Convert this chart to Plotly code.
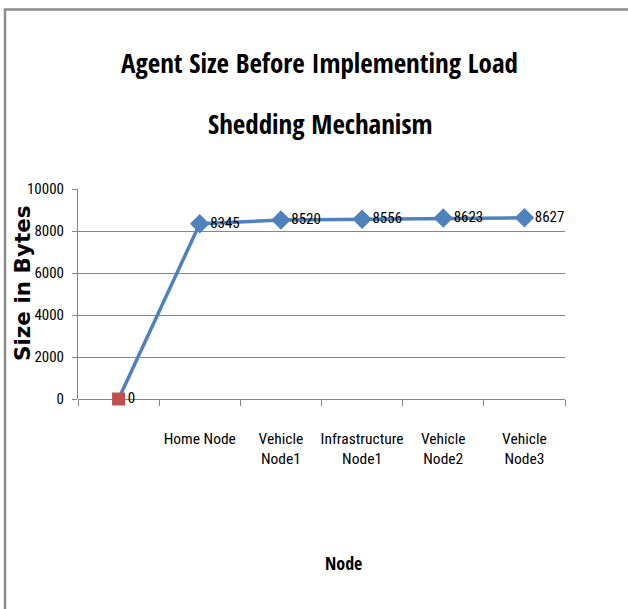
import plotly.graph_objects as go

categories = [" ", "Home Node", "Vehicle<br>Node1", "Infrastructure<br>Node1", "Vehicle<br>Node2", "Vehicle<br>Node3"]
sizes = [0, 8345, 8520, 8556, 8623, 8627]
y_ticks = [0, 2000, 4000, 6000, 8000, 10000]

title_lines = ["Agent Size Before Implementing Load", "Shedding Mechanism"]

W, H = 628, 609
L, R, T, B = 78, 63, 189, 210
pw, ph = W - L - R, H - T - B

def px(x):
    return (x - L) / pw

def py(y):
    return (H - B - y) / ph

BLUE = "#4F81BD"
RED = "#C0504D"
GRID = "#868686"
NARROW = "Roboto Condensed, DejaVu Sans Condensed, sans-serif"
BOLDC = "Open Sans Condensed, Roboto Condensed, sans-serif"

symbols = ["square"] + ["diamond"] * (len(sizes) - 1)
colors = [RED] + [BLUE] * (len(sizes) - 1)
msizes = [13] + [15] * (len(sizes) - 1)

fig = go.Figure()
fig.add_trace(go.Scatter(
    x=categories, y=sizes, mode="lines+markers+text",
    line=dict(color=BLUE, width=3.5),
    marker=dict(symbol=symbols, color=colors, size=msizes, opacity=1, line=dict(width=0)),
    text=[str(v) for v in sizes], textposition="middle right",
    textfont=dict(family=NARROW, size=15, color="black"),
    cliponaxis=False, showlegend=False, hoverinfo="x+y",
))

fig.update_layout(
    width=W, height=H,
    margin=dict(l=L, r=R, t=T, b=B, pad=0),
    paper_bgcolor="white", plot_bgcolor="white",
    showlegend=False,
    xaxis=dict(
        type="category", categoryorder="array", categoryarray=categories,
        range=[-0.5, len(categories) - 0.5],
        showgrid=False, zeroline=False,
        showline=False,
        ticks="outside", ticklen=6, tickcolor=GRID, tickwidth=1,
        tickson="boundaries", tickangle=0,
        ticklabelstandoff=28,
        tickfont=dict(family=NARROW, size=15.5, color="black"),
    ),
    yaxis=dict(
        range=[0, 10000], tickvals=y_ticks, ticktext=[str(v) for v in y_ticks],
        showgrid=True, gridcolor=GRID, gridwidth=1,
        zeroline=True, zerolinecolor=GRID, zerolinewidth=1,
        showline=True, linecolor=GRID, linewidth=1,
        ticks="outside", ticklen=5, tickcolor=GRID,
        ticklabelstandoff=5,
        tickfont=dict(family=NARROW, size=15, color="black"),
    ),
    shapes=[dict(type="rect", xref="paper", yref="paper",
                 x0=px(5), x1=px(720), y0=py(720), y1=py(9.5),
                 line=dict(color="#8c8c8c", width=2.5), fillcolor="rgba(0,0,0,0)", layer="below")],
    annotations=[
        dict(text="<b>" + title_lines[0] + "</b>", x=px(319), y=py(63), xref="paper", yref="paper",
             xanchor="center", yanchor="middle", showarrow=False,
             font=dict(family=BOLDC, size=27, color="black")),
        dict(text="<b>" + title_lines[1] + "</b>", x=px(320), y=py(123), xref="paper", yref="paper",
             xanchor="center", yanchor="middle", showarrow=False,
             font=dict(family=BOLDC, size=27, color="black")),
        dict(text="<b>Size in Bytes</b>", x=px(22), y=py(283), xref="paper", yref="paper",
             xanchor="center", yanchor="middle", showarrow=False, textangle=-90,
             font=dict(family="DejaVu Sans, Verdana, sans-serif", size=21.5, color="black")),
        dict(text="<b>Node</b>", x=px(343), y=py(563), xref="paper", yref="paper",
             xanchor="center", yanchor="middle", showarrow=False,
             font=dict(family=BOLDC, size=18, color="black")),
    ],
)

fig.write_html("out.html", config={"displayModeBar": False},
               post_script="document.body.style.margin='0px';")
